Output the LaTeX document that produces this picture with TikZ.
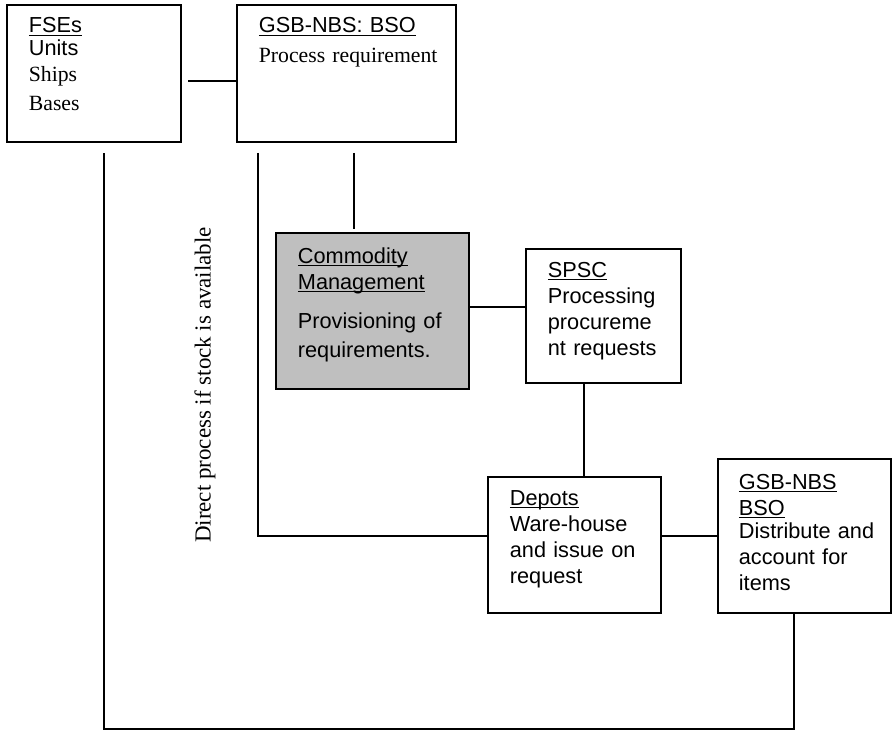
\documentclass[tikz,border=0pt]{standalone}
\usepackage{fontspec}
\setmainfont{Liberation Serif}
\newfontfamily\arialfont{Liberation Sans}
\usepackage{tikz}
\usetikzlibrary{fit}
\newcommand\uhead[1]{\underline{\smash{#1}}}

\begin{document}
\begin{tikzpicture}[x=0.5525pt,y=-0.5525pt,line width=1pt,
  box/.style={draw,rectangle,inner sep=0pt,outer sep=0pt},
  txt/.style={anchor=base west,inner sep=0pt,text width=4cm,align=left,
    font=\arialfont\fontsize{12}{14.4}\selectfont}]
\useasboundingbox (0,0) rectangle (894,731);

  \node[box,fit={(7,5) (181,142)}]		(F) {};
  \node[box,fit={(237,5) (456,142)}]		(G) {};
  \node[box,fill=black!25,fit={(276,233) (469,389)}]	(C) {};
  \node[box,fit={(526,249) (681,383)}]	(S) {};
  \node[box,fit={(488,477) (661,613)}]	(D) {};
  \node[box,fit={(718,459) (891,613)}]	(B) {};

  \node[txt] (Ft) at (28,33)	{\uhead{FSEs}\\[-1.8pt] Units\\ \rmfamily Ships\\[1.3pt] \rmfamily Bases};
  \node[txt] (Gt) at (258,33)	{\uhead{GSB-NBS: BSO}\\[1.7pt] \rmfamily Process requirement};
  \node[txt] (Ct) at (297,263)	{\uhead{Commodity}\\ \uhead{Management}\\[7.2pt] Provisioning of\\[1.7pt] requirements.};
  \node[txt] (St) at (547,277)	{\uhead{SPSC}\\ Processing\\ procureme\\ nt requests};
  \node[txt] (Dt) at (509,505)	{\uhead{Depots}\\ Ware-house\\ and issue on\\ request};
  \node[txt] (Bt) at (738,489)	{\uhead{GSB-NBS}\\ \uhead{BSO}\\[-1.5pt] Distribute and\\ account for\\ items};

  \node[rotate=90,font=\fontsize{12.7}{14}\selectfont] (N) at (205,385) {Direct process if stock is available};

  \coordinate (a) at (188,81);
  \coordinate (b1) at (354,153);
  \coordinate (b2) at (354,229);
  \coordinate (c) at (258,153);
  \coordinate (e) at (104,153);

  \draw (a) -- (a -| G.west);
  \draw (b1) -- (b2);
  \draw (c) |- (D.west |- B.west);
  \draw (C.east |- 0,307) -- (S.west |- 0,307);
  \draw (S.south -| 584,0) -- (D.north -| 584,0);
  \draw (D.east |- B.west) -- (B.west);
  \draw (B.south -| 794,0) -- (794,729) -| (e);

\end{tikzpicture}
\end{document}
